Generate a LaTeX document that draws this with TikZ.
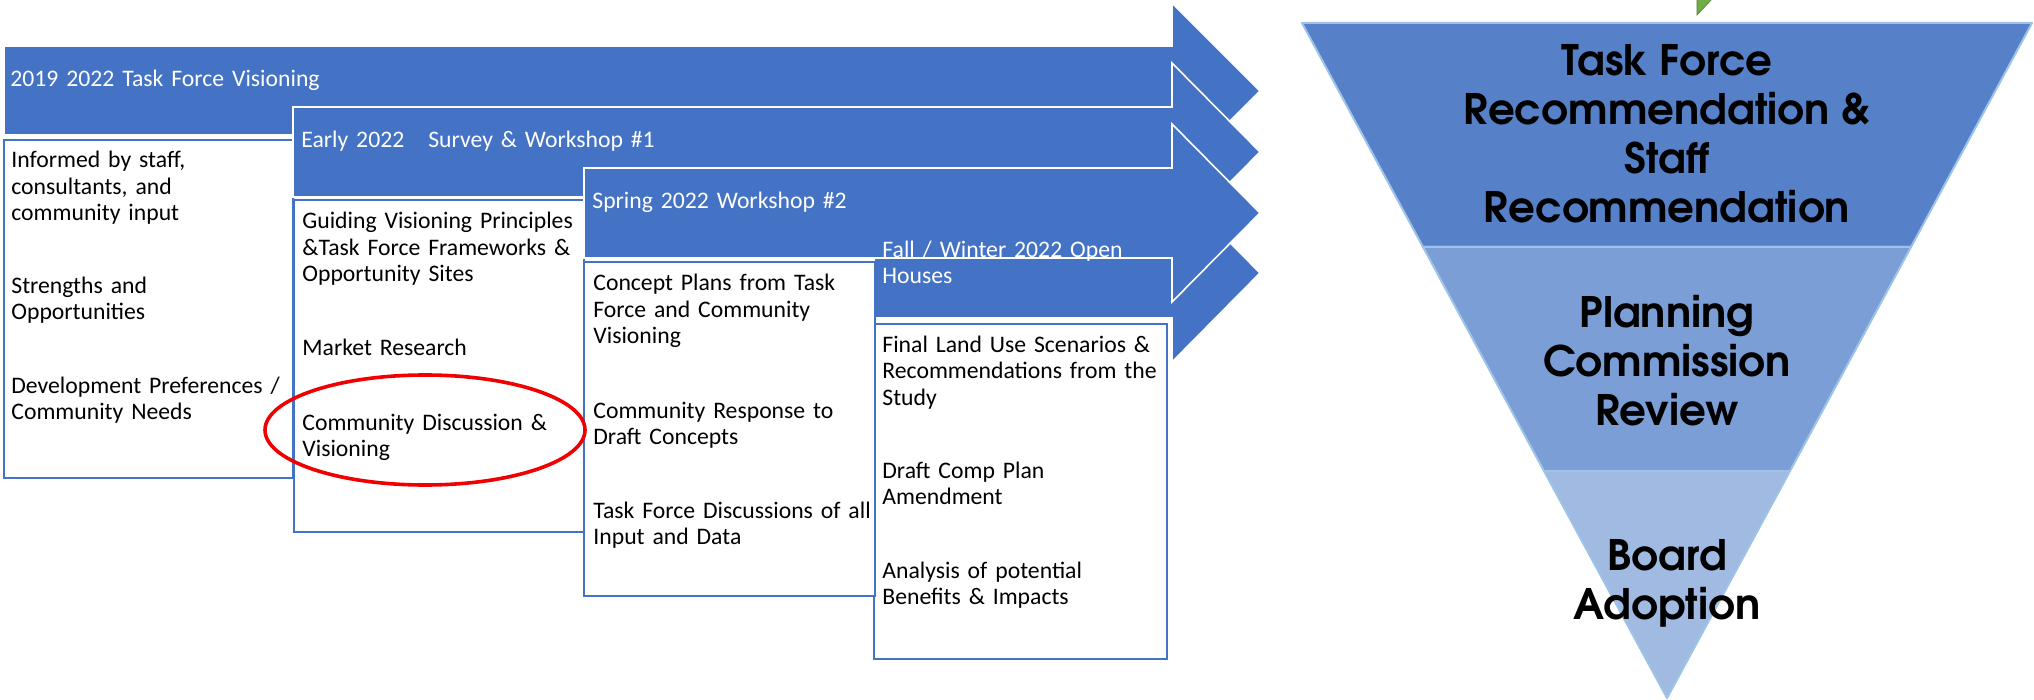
\documentclass[tikz,border=0pt]{standalone}
\usepackage{fontspec}
\setmainfont{Carlito}
\newfontfamily\gothic{TeX Gyre Adventor}
\definecolor{obl}{HTML}{4472C4}
\definecolor{bandA}{HTML}{5681C9}
\definecolor{bandB}{HTML}{7C9ED6}
\definecolor{bandC}{HTML}{A0BAE2}
\definecolor{tedge}{HTML}{9DC3E6}
\definecolor{grn}{HTML}{70AD47}
\definecolor{grnd}{HTML}{507E32}
\definecolor{ringred}{HTML}{F00000}
\begin{document}
\begin{tikzpicture}[x=0.5pt,y=-0.5pt,
  phase/.style={fill=obl,draw=white,line width=0.8pt,line join=miter},
  infobox/.style={fill=white,draw=obl,line width=0.9pt},
  txt/.style={anchor=base west,inner sep=0pt,align=left,text width=#1,
    font=\fontsize{11.85}{13.25}\selectfont},
  txt/.default=160pt,
  wtxt/.style={txt=400pt,text=white},
  band/.style={draw=tedge,line width=1pt,line join=round},
  btxt/.style={align=center,inner sep=0pt,font=\gothic\bfseries\fontsize{21}{24.5}\selectfont}]
\useasboundingbox (0,0) rectangle (2034,700);

% phase arrows and boxes
\draw[phase] (4,46) -- (1172,46) -- (1172,3) -- (1260,91) -- (1172,179) -- (1172,135) -- (4,135) -- cycle;
\draw[infobox] (4,140) rectangle (293,478);
\draw[phase] (293,107) -- (1172,107) -- (1172,63) -- (1260,152) -- (1172,241) -- (1172,197) -- (293,197) -- cycle;
\draw[infobox] (294,200) rectangle (584,532);
\draw[phase] (874,228) -- (1172,228) -- (1172,184) -- (1260,273) -- (1172,362) -- (1172,318) -- (874,318) -- cycle;
\draw[infobox] (874,324) rectangle (1167,659);
\draw[phase] (584,168) -- (1172,168) -- (1172,124) -- (1260,213) -- (1172,302) -- (1172,258) -- (584,258) -- cycle;
\draw[infobox] (584,262) rectangle (875,596);

% arrow labels
\node[wtxt] (h1) at (10,87) {2019\hspace{4pt}2022 Task Force Visioning};
\node[wtxt] (h2) at (301,148) {Early 2022\hspace{12pt}Survey \& Workshop \#1};
\node[wtxt] (h3) at (592,209) {Spring 2022 Workshop \#2};
\node[wtxt] (h4) at (882,257) {Fall / Winter 2022 Open\\Houses};

% box texts
\node[txt] (b1a) at (11,168) {Informed by staff,\\consultants, and\\community input};
\node[txt] (b1b) at (11,293) {Strengths and\\Opportunities};
\node[txt] (b1c) at (11,393) {Development Preferences /\\Community Needs};

\node[txt] (b2a) at (302,229) {Guiding Visioning Principles\\\&Task Force Frameworks \&\\Opportunity Sites};
\node[txt] (b2b) at (302,355) {Market Research};
\node[txt] (b2c) at (302,430) {Community Discussion \&\\Visioning};

\node[txt] (b3a) at (593,291) {Concept Plans from Task\\Force and Community\\Visioning};
\node[txt] (b3b) at (593,418) {Community Response to\\Draft Concepts};
\node[txt] (b3c) at (593,518) {Task Force Discussions of all\\Input and Data};

\node[txt] (b4a) at (882,352) {Final Land Use Scenarios \&\\Recommendations from the\\Study};
\node[txt] (b4b) at (882,478) {Draft Comp Plan\\Amendment};
\node[txt] (b4c) at (882,578) {Analysis of potential\\Benefits \& Impacts};

% highlight ring
\draw[ringred,line width=1.8pt] (425,430) ellipse [x radius=80pt, y radius=27.5pt];

% green fragment at top
\draw[fill=grn,draw=grnd,line width=0.3pt] (1697,-3) -- (1714,-3) -- (1697,15) -- cycle;

% inverted triangle
\draw[band,fill=bandA] (1302,23) -- (2032,23) -- (1911,247) -- (1423,247) -- cycle;
\draw[band,fill=bandB] (1423,247) -- (1911,247) -- (1790,471) -- (1544,471) -- cycle;
\draw[band,fill=bandC] (1544,471) -- (1790,471) -- (1667,698) -- cycle;

\node[btxt] (t1) at (1667,134) {Task Force\\Recommendation \&\\Staff\\Recommendation};
\node[btxt] (t2) at (1667,361) {Planning\\Commission\\Review};
\node[btxt] (t3) at (1667,583) {Board\\Adoption};
\end{tikzpicture}
\end{document}
